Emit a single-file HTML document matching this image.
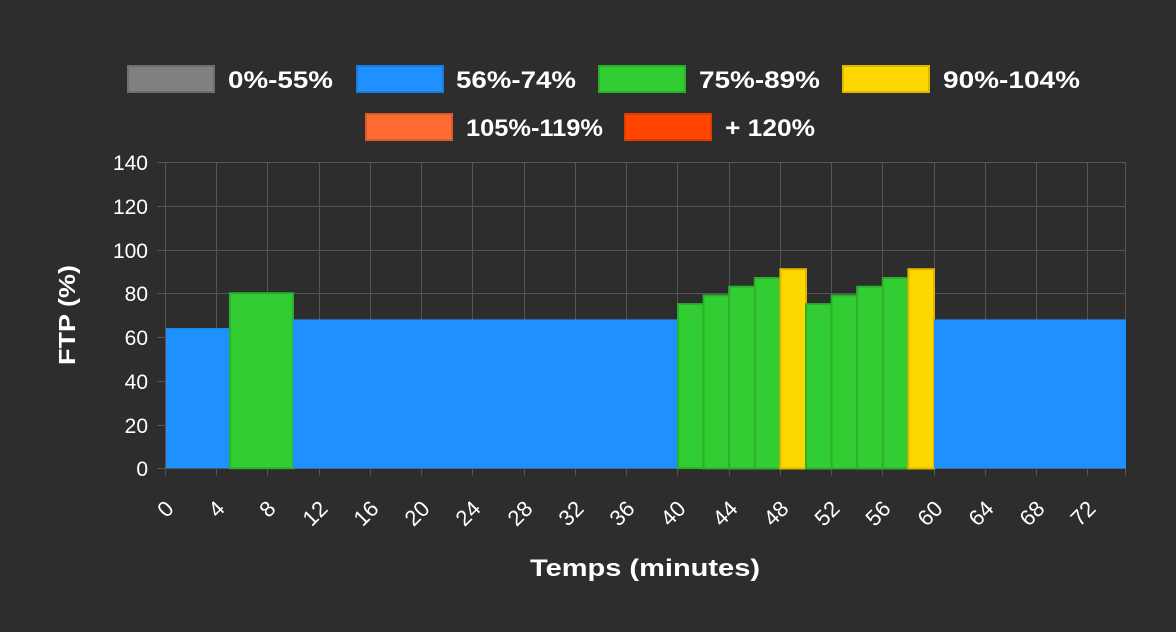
<!DOCTYPE html>
<html><head><meta charset="utf-8"><style>
html,body{margin:0;padding:0;background:#2d2d2d;}
svg{display:block;font-family:"Liberation Sans",sans-serif;}
</style></head><body>
<svg width="1176" height="632" viewBox="0 0 1176 632" xmlns="http://www.w3.org/2000/svg">
<rect width="1176" height="632" fill="#2d2d2d"/>
<g font-weight="bold" font-size="24" fill="#fff">
<rect x="128" y="66" width="86" height="26" fill="#808080" stroke="#6e6e6e" stroke-width="2"/><text x="228" y="88" textLength="105" lengthAdjust="spacingAndGlyphs">0%-55%</text>
<rect x="357" y="66" width="86" height="26" fill="#1e90ff" stroke="#1a7ddc" stroke-width="2"/><text x="456" y="88" textLength="120" lengthAdjust="spacingAndGlyphs">56%-74%</text>
<rect x="599" y="66" width="86" height="26" fill="#32cd32" stroke="#2bb02b" stroke-width="2"/><text x="699" y="88" textLength="121" lengthAdjust="spacingAndGlyphs">75%-89%</text>
<rect x="843" y="66" width="86" height="26" fill="#ffd700" stroke="#dcb900" stroke-width="2"/><text x="943" y="88" textLength="137" lengthAdjust="spacingAndGlyphs">90%-104%</text>
<rect x="366" y="114" width="86" height="26" fill="#ff6a33" stroke="#dc5a2b" stroke-width="2"/><text x="466" y="136" textLength="137" lengthAdjust="spacingAndGlyphs">105%-119%</text>
<rect x="625" y="114" width="86" height="26" fill="#ff4500" stroke="#dc3c00" stroke-width="2"/><text x="725" y="136" textLength="90" lengthAdjust="spacingAndGlyphs">+ 120%</text>
</g>
<g stroke="#555" stroke-width="1">
<line x1="157" y1="162.5" x2="1126" y2="162.5"/>
<line x1="157" y1="206.5" x2="1126" y2="206.5"/>
<line x1="157" y1="250.5" x2="1126" y2="250.5"/>
<line x1="157" y1="293.5" x2="1126" y2="293.5"/>
<line x1="157" y1="337.5" x2="1126" y2="337.5"/>
<line x1="157" y1="381.5" x2="1126" y2="381.5"/>
<line x1="157" y1="425.5" x2="1126" y2="425.5"/>
<line x1="157" y1="468.5" x2="1126" y2="468.5"/>
<line x1="165.5" y1="162" x2="165.5" y2="476"/>
<line x1="216.5" y1="162" x2="216.5" y2="476"/>
<line x1="267.5" y1="162" x2="267.5" y2="476"/>
<line x1="319.5" y1="162" x2="319.5" y2="476"/>
<line x1="370.5" y1="162" x2="370.5" y2="476"/>
<line x1="421.5" y1="162" x2="421.5" y2="476"/>
<line x1="472.5" y1="162" x2="472.5" y2="476"/>
<line x1="524.5" y1="162" x2="524.5" y2="476"/>
<line x1="575.5" y1="162" x2="575.5" y2="476"/>
<line x1="626.5" y1="162" x2="626.5" y2="476"/>
<line x1="677.5" y1="162" x2="677.5" y2="476"/>
<line x1="729.5" y1="162" x2="729.5" y2="476"/>
<line x1="780.5" y1="162" x2="780.5" y2="476"/>
<line x1="831.5" y1="162" x2="831.5" y2="476"/>
<line x1="882.5" y1="162" x2="882.5" y2="476"/>
<line x1="934.5" y1="162" x2="934.5" y2="476"/>
<line x1="985.5" y1="162" x2="985.5" y2="476"/>
<line x1="1036.5" y1="162" x2="1036.5" y2="476"/>
<line x1="1087.5" y1="162" x2="1087.5" y2="476"/>
<line x1="1125.5" y1="162" x2="1125.5" y2="476"/>
</g>
<g stroke-width="2">
<rect x="166" y="328.1" width="63" height="140" fill="#1e90ff"/>
<rect x="230" y="293.2" width="63" height="175" fill="#32cd32" stroke="#2bb02b"/>
<rect x="293" y="319.4" width="384" height="149" fill="#1e90ff"/>
<rect x="678" y="304.1" width="25.6" height="164" fill="#32cd32" stroke="#2bb02b"/>
<rect x="703.6" y="295.4" width="25.6" height="173" fill="#32cd32" stroke="#2bb02b"/>
<rect x="729.2" y="286.7" width="25.6" height="181.8" fill="#32cd32" stroke="#2bb02b"/>
<rect x="754.8" y="278" width="25.6" height="190.5" fill="#32cd32" stroke="#2bb02b"/>
<rect x="780.4" y="269.2" width="25.6" height="199.3" fill="#ffd700" stroke="#dcb900"/>
<rect x="806" y="304.1" width="25.6" height="164.4" fill="#32cd32" stroke="#2bb02b"/>
<rect x="831.6" y="295.4" width="25.6" height="173" fill="#32cd32" stroke="#2bb02b"/>
<rect x="857.2" y="286.7" width="25.6" height="181.8" fill="#32cd32" stroke="#2bb02b"/>
<rect x="882.8" y="278" width="25.6" height="190.5" fill="#32cd32" stroke="#2bb02b"/>
<rect x="908.4" y="269.2" width="25.6" height="199.3" fill="#ffd700" stroke="#dcb900"/>
<rect x="934" y="319.4" width="192" height="149" fill="#1e90ff"/>
</g>
<g fill="#fff" font-size="21" text-anchor="end">
<text x="148" y="170">140</text><text x="148" y="214">120</text><text x="148" y="258">100</text>
<text x="148" y="301">80</text><text x="148" y="345">60</text><text x="148" y="389">40</text>
<text x="148" y="433">20</text><text x="148" y="476">0</text>
</g>
<text transform="translate(75,315) rotate(-90)" fill="#fff" font-size="23" font-weight="bold" text-anchor="middle" textLength="100" lengthAdjust="spacingAndGlyphs">FTP (%)</text>
<g fill="#fff" font-size="22" text-anchor="end">
<text transform="translate(175,510) rotate(-45)">0</text>
<text transform="translate(226,510) rotate(-45)">4</text>
<text transform="translate(277,510) rotate(-45)">8</text>
<text transform="translate(329,510) rotate(-45)">12</text>
<text transform="translate(380,510) rotate(-45)">16</text>
<text transform="translate(431,510) rotate(-45)">20</text>
<text transform="translate(482,510) rotate(-45)">24</text>
<text transform="translate(534,510) rotate(-45)">28</text>
<text transform="translate(585,510) rotate(-45)">32</text>
<text transform="translate(636,510) rotate(-45)">36</text>
<text transform="translate(687,510) rotate(-45)">40</text>
<text transform="translate(739,510) rotate(-45)">44</text>
<text transform="translate(790,510) rotate(-45)">48</text>
<text transform="translate(841,510) rotate(-45)">52</text>
<text transform="translate(892,510) rotate(-45)">56</text>
<text transform="translate(944,510) rotate(-45)">60</text>
<text transform="translate(995,510) rotate(-45)">64</text>
<text transform="translate(1046,510) rotate(-45)">68</text>
<text transform="translate(1097,510) rotate(-45)">72</text>
</g>
<text x="530" y="576" fill="#fff" font-size="24" font-weight="bold" textLength="230" lengthAdjust="spacingAndGlyphs">Temps (minutes)</text>
</svg>
</body></html>
